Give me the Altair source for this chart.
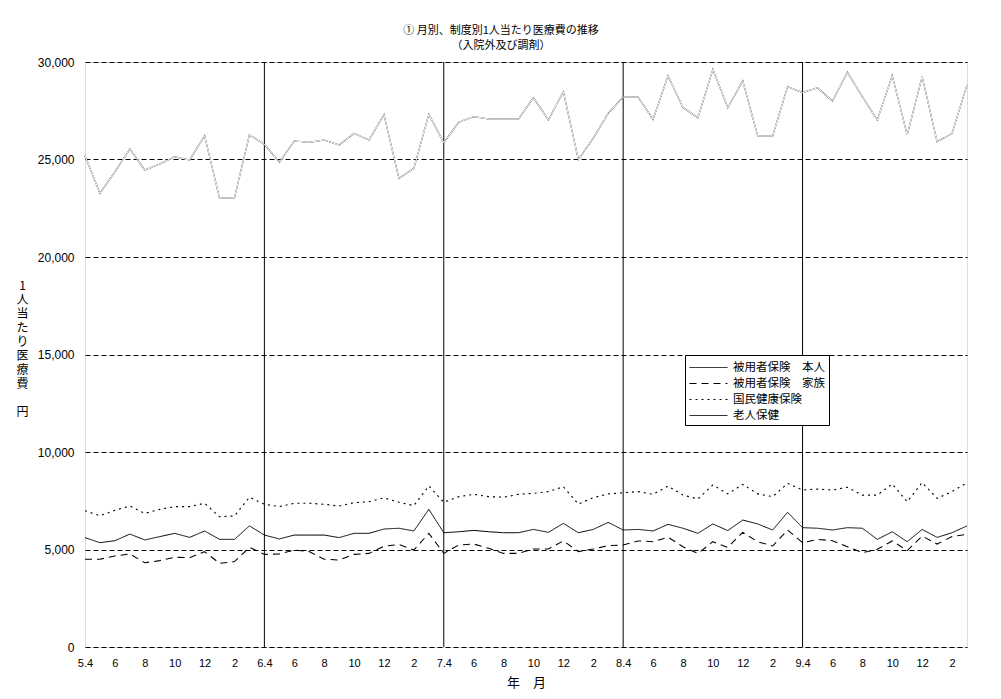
import altair as alt
import pandas as pd

series_names = ["被用者保険　本人", "被用者保険　家族", "国民健康保険", "老人保健"]

honnin = [5610, 5350, 5450, 5790, 5490, 5660, 5830, 5620, 5950, 5520,
          5520, 6210, 5740, 5540, 5740, 5740, 5740, 5610, 5830, 5830,
          6050, 6090, 5950, 7060, 5860, 5910, 5980, 5910, 5860, 5860,
          6030, 5880, 6340, 5860, 6030, 6390, 6000, 6030, 5950, 6290,
          6090, 5830, 6310, 5970, 6510, 6310, 6000, 6910, 6120, 6090,
          6000, 6120, 6090, 5520, 5910, 5400, 6030, 5620, 5860, 6210]

kazoku = [4500, 4500, 4670, 4770, 4320, 4430, 4600, 4580, 4890, 4290,
          4380, 5110, 4750, 4770, 4970, 4890, 4500, 4460, 4750, 4800,
          5170, 5260, 4970, 5830, 4800, 5230, 5280, 5060, 4800, 4800,
          5030, 5030, 5440, 4890, 5030, 5200, 5230, 5440, 5400, 5630,
          5140, 4800, 5400, 5110, 5880, 5400, 5180, 6000, 5350, 5520,
          5450, 5140, 4840, 5010, 5440, 4940, 5690, 5280, 5660, 5780]

kokuho = [6990, 6730, 7010, 7230, 6850, 7060, 7200, 7200, 7370, 6680,
          6720, 7680, 7320, 7200, 7370, 7370, 7320, 7230, 7400, 7450,
          7650, 7420, 7250, 8260, 7420, 7710, 7830, 7710, 7680, 7830,
          7880, 7970, 8220, 7330, 7660, 7850, 7910, 7970, 7830, 8250,
          7790, 7590, 8310, 7850, 8340, 7850, 7710, 8390, 8050, 8100,
          8050, 8190, 7790, 7790, 8360, 7450, 8430, 7620, 7970, 8430]

roujin = [25190, 23270, 24370, 25540, 24460, 24770, 25140, 24970, 26220, 23010,
          23040, 26260, 25780, 24860, 25950, 25880, 26000, 25740, 26340, 26000,
          27300, 24030, 24550, 27320, 25860, 26910, 27200, 27080, 27080, 27080,
          28170, 27030, 28480, 25000, 26090, 27370, 28200, 28200, 27060, 29290,
          27660, 27140, 29620, 27660, 29030, 26210, 26210, 28740, 28430, 28680,
          28000, 29470, 28220, 27030, 29300, 26260, 29250, 25910, 26340, 28820]

tick_idx = list(range(0, 60, 2))
tick_text = ["5.4", "6", "8", "10", "12", "2",
             "6.4", "6", "8", "10", "12", "2",
             "7.4", "6", "8", "10", "12", "2",
             "8.4", "6", "8", "10", "12", "2",
             "9.4", "6", "8", "10", "12", "2"]
year_start_idx = [12, 24, 36, 48]
y_ticks = [0, 5000, 10000, 15000, 20000, 25000, 30000]

rows = []
for name, vals in zip(series_names, [honnin, kazoku, kokuho, roujin]):
    for i, v in enumerate(vals):
        rows.append({"idx": i, "value": v, "series": name})
df = pd.DataFrame(rows)

label_map = "{" + ",".join(f"'{i}':'{t}'" for i, t in zip(tick_idx, tick_text)) + "}"
label_expr = f"{label_map}[datum.value + '']"

jp = "Noto Sans CJK JP"
num = "Liberation Sans"

x_enc = alt.X("idx:Q",
              scale=alt.Scale(domain=[0, 59], nice=False, zero=False),
              axis=alt.Axis(values=tick_idx, labelExpr=label_expr, grid=False,
                            ticks=False, domain=False, title="年　月",
                            labelFont=num, labelFontSize=11, labelPadding=10,
                            labelColor="black", titleFont=jp, titleFontSize=13,
                            titleFontWeight="normal", titleColor="black",
                            titleBaseline="middle", titleY=35, labelFlush=False,
                            labelOverlap=False, labelBound=False))
y_enc = alt.Y("value:Q",
              scale=alt.Scale(domain=[0, 30000], nice=False),
              axis=alt.Axis(values=y_ticks, format=",.0f", grid=True, gridColor="black",
                            gridDash=[5, 3], gridWidth=1, ticks=False, domain=False,
                            labelFont=num, labelFontSize=12, labelPadding=11,
                            labelColor="black",
                            title=["1", "人", "当", "た", "り", "医", "療", "費", "\u200b", "円"],
                            titleAngle=0, titleX=-63, titleY=218, titleAlign="center",
                            titleBaseline="top", titleLineHeight=14, titleFont=jp,
                            titleFontSize=12, titleFontWeight="normal", titleColor="black"))

legend = alt.Legend(orient="none", legendX=600, legendY=293, fillColor="white",
                    strokeColor="black", padding=4, symbolType="M-2.5,0H2.5",
                    symbolSize=231, symbolOffset=11,
                    labelFont=jp, labelFontSize=11.5, labelColor="black", rowPadding=2,
                    labelOffset=16, title=None)

lines = alt.Chart(df).mark_line(strokeCap="butt").encode(
    x=x_enc, y=y_enc,
    color=alt.Color("series:N", scale=alt.Scale(domain=series_names,
                    range=["black", "black", "black", "#333333"]), legend=legend),
    strokeDash=alt.StrokeDash("series:N", scale=alt.Scale(domain=series_names,
                    range=[[1, 0], [7, 5], [2, 4], [1, 0]]), legend=legend),
    strokeWidth=alt.StrokeWidth("series:N", scale=alt.Scale(domain=series_names,
                    range=[1, 1.2, 1, 3.2]), legend=legend),
    detail="series:N",
)

inner = alt.Chart(df).transform_filter(
    alt.datum.series == "老人保健"
).mark_line(color="white", strokeWidth=1).encode(x=x_enc, y=y_enc)

rules = alt.Chart(pd.DataFrame({"idx": year_start_idx})).mark_rule(
    color="black", strokeWidth=1).encode(x=x_enc)

chart = alt.layer(rules, lines, inner).properties(
    width=882, height=585,
    autosize=alt.AutoSizeParams(type="none"),
    padding={"left": 77, "top": 54, "right": 26, "bottom": 44},
    title=alt.TitleParams(text=["① 月別、制度別1人当たり医療費の推移", "（入院外及び調剤）"],
                          font=jp, fontSize=11, fontWeight="normal", color="black",
                          lineHeight=15, offset=5, dx=-25, anchor="middle"),
).configure_view(
    stroke="black", strokeWidth=1
).configure_axisX(
    labelOverlap=False
).configure(background="white")

chart.save("out.html", embed_options={"renderer": "svg", "actions": False})
